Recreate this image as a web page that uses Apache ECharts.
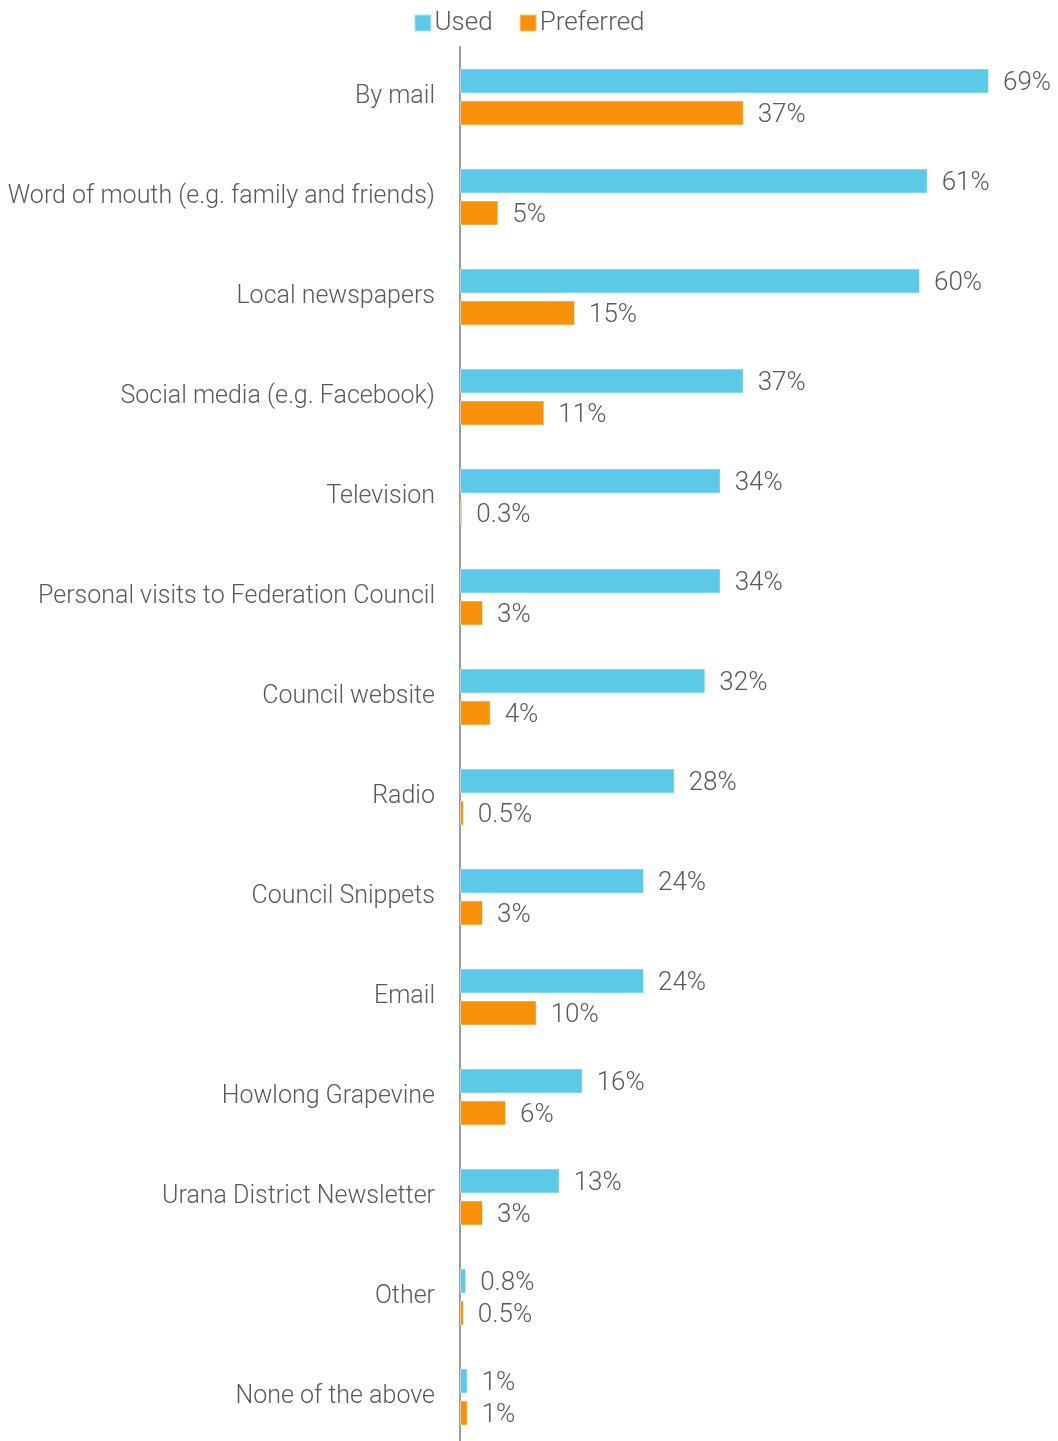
<!DOCTYPE html>
<html>
<head>
<meta charset="utf-8">
<script src="https://cdn.jsdelivr.net/npm/echarts@6/dist/echarts.min.js"></script>
<style>
  html, body { margin: 0; padding: 0; background: #fff; }
  #chart { width: 1058px; height: 1441px; }
</style>
</head>
<body>
<div id="chart"></div>
<script>
  // 类目（从上到下）
  var categories = [
    'By mail',
    'Word of mouth (e.g. family and friends)',
    'Local newspapers',
    'Social media (e.g. Facebook)',
    'Television',
    'Personal visits to Federation Council',
    'Council website',
    'Radio',
    'Council Snippets',
    'Email',
    'Howlong Grapevine',
    'Urana District Newsletter',
    'Other',
    'None of the above'
  ];
  var usedValues = [69, 61, 60, 37, 34, 34, 32, 28, 24, 24, 16, 13, 0.8, 1];
  var preferredValues = [37, 5, 15, 11, 0.3, 3, 4, 0.5, 3, 10, 6, 3, 0.5, 1];

  var textColor = '#595959';
  var font = 'Roboto, "DejaVu Sans", sans-serif';

  var labelStyle = {
    show: true,
    position: 'right',
    distance: 14,
    offset: [0, 2],
    color: textColor,
    fontFamily: font,
    fontWeight: 300,
    fontSize: 26,
    formatter: function(p) { return p.value + '%'; }
  };

  var myChart = echarts.init(document.getElementById('chart'));
  var option = {
    backgroundColor: '#ffffff',
    animation: false,
    legend: {
      top: 5,
      left: 'center',
      itemWidth: 17,
      itemHeight: 17,
      itemGap: 26,
      icon: 'rect',
      textStyle: { color: textColor, fontFamily: font, fontWeight: 300, fontSize: 26, padding: [0, 0, 0, -2] },
      data: ['Used', 'Preferred']
    },
    grid: { left: 460, right: 69, top: 47, height: 1400, outerBoundsMode: 'none' },
    xAxis: {
      type: 'value',
      min: 0,
      max: 69,
      show: false
    },
    yAxis: {
      type: 'category',
      inverse: true,
      data: categories,
      axisLine: { show: true, lineStyle: { color: '#999', width: 2 } },
      axisTick: { show: false },
      axisLabel: {
        margin: 25,
        color: textColor,
        fontFamily: font,
        fontWeight: 300,
        fontSize: 25,
        padding: [2, 0, 0, 0]
      }
    },
    series: [
      {
        name: 'Used',
        type: 'bar',
        data: usedValues,
        barWidth: 25,
        barGap: '28%',
        itemStyle: { color: '#5BC9E7', borderColor: 'rgba(255,255,255,0.5)', borderWidth: 1 },
        label: labelStyle
      },
      {
        name: 'Preferred',
        type: 'bar',
        data: preferredValues,
        barWidth: 25,
        barGap: '28%',
        itemStyle: { color: '#F79109', borderColor: 'rgba(255,255,255,0.5)', borderWidth: 1 },
        label: labelStyle
      }
    ]
  };
  myChart.setOption(option);
</script>
</body>
</html>
